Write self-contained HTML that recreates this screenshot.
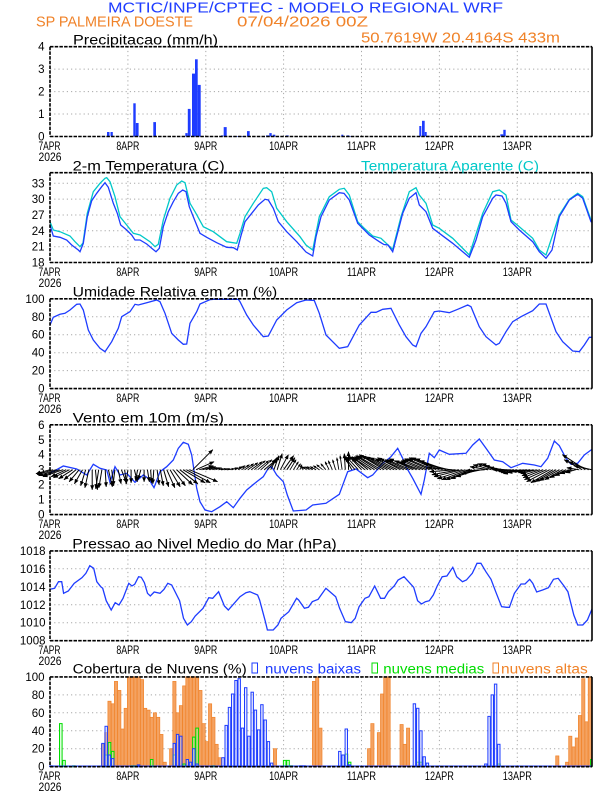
<!DOCTYPE html>
<html><head><meta charset="utf-8"><style>
html,body{margin:0;padding:0;background:#fff;}
svg{display:block;}
text{font-family:"Liberation Sans",sans-serif;}
.g{stroke:#a8a8a8;stroke-width:1;stroke-dasharray:1.2 3;fill:none;}
.fr{stroke:#000;stroke-width:1.6;fill:none;}
.frd{stroke:#000;stroke-width:1.6;fill:none;stroke-dasharray:3.5 1.2;}
.yl{font-size:11.5px;text-anchor:end;fill:#000;}
.xl{font-size:11.5px;text-anchor:middle;fill:#000;}
.tt{font-size:13.5px;fill:#000;}
.arr path{stroke:#000;stroke-width:1;fill:none;marker-end:url(#ah);}
.arrs path{stroke:#000;stroke-width:0.9;fill:none;marker-end:url(#as);}
.or rect{fill:#f4a261;stroke:#f08228;stroke-width:0.7;}
.gr rect{fill:rgba(190,255,190,0.5);stroke:#00dc00;stroke-width:1;}
.bl rect{fill:rgba(210,215,255,0.45);stroke:#1e3cff;stroke-width:1;}
.pr rect{fill:#1e3cff;}
</style></head><body>
<svg width="612" height="792" viewBox="0 0 612 792" xmlns="http://www.w3.org/2000/svg">
<defs>
<marker id="ah" viewBox="0 0 10 10" refX="9" refY="5" markerWidth="5" markerHeight="5" orient="auto" markerUnits="userSpaceOnUse"><path d="M0,1 L10,5 L0,9 z" fill="#000"/></marker>
<marker id="as" viewBox="0 0 10 10" refX="9" refY="5" markerWidth="3.2" markerHeight="3.2" orient="auto" markerUnits="userSpaceOnUse"><path d="M0,1 L10,5 L0,9 z" fill="#000"/></marker>
</defs>
<rect width="612" height="792" fill="#fff"/>

<!-- Header -->
<text x="108" y="12.7" font-size="15" fill="#1e3cff" textLength="395" lengthAdjust="spacingAndGlyphs">MCTIC/INPE/CPTEC - MODELO REGIONAL WRF</text>
<text x="36" y="26.7" font-size="15" fill="#f08228" textLength="157" lengthAdjust="spacingAndGlyphs">SP PALMEIRA DOESTE</text>
<text x="237" y="26.7" font-size="15" fill="#f08228" textLength="131" lengthAdjust="spacingAndGlyphs">07/04/2026 00Z</text>
<text x="361" y="42.7" font-size="15" fill="#f08228" textLength="199" lengthAdjust="spacingAndGlyphs">50.7619W 20.4164S 433m</text>

<!-- ============ PANEL 1: Precip ============ -->
<text class="tt" x="73" y="44.3" textLength="145" lengthAdjust="spacingAndGlyphs">Precipitacao (mm/h)</text>
<g>
<path class="g" d="M127.9 46.7V136.5M205.8 46.7V136.5M283.6 46.7V136.5M361.5 46.7V136.5M439.4 46.7V136.5M517.3 46.7V136.5M50 114.05H592M50 91.6H592M50 69.15H592"/>
</g>
<g class="pr">
<rect x="107" y="132" width="2.5" height="4.5"/>
<rect x="110.5" y="132" width="2.3" height="4.5"/>
<rect x="133.3" y="103.3" width="2.4" height="33.2"/>
<rect x="135.8" y="123" width="2.8" height="13.5"/>
<rect x="153.3" y="122.1" width="2.7" height="14.4"/>
<rect x="185.3" y="133.1" width="2.4" height="3.4"/>
<rect x="187.8" y="108.9" width="2.8" height="27.6"/>
<rect x="192" y="73.6" width="3" height="62.9"/>
<rect x="195" y="59.3" width="2.7" height="77.2"/>
<rect x="197.7" y="84.9" width="3" height="51.6"/>
<rect x="221" y="135.4" width="2.3" height="1.1"/>
<rect x="223.7" y="127.1" width="3" height="9.4"/>
<rect x="233" y="136" width="12" height="0.5"/>
<rect x="247" y="131.1" width="2.7" height="5.4"/>
<rect x="266" y="135.4" width="3" height="1.1"/>
<rect x="269.3" y="133.1" width="2.4" height="3.4"/>
<rect x="272.7" y="134.7" width="2.6" height="1.8"/>
<rect x="286" y="135.4" width="2.7" height="1.1"/>
<rect x="331" y="136" width="3" height="0.5"/>
<rect x="341.3" y="134.7" width="2" height="1.8"/>
<rect x="346.7" y="135.4" width="2.6" height="1.1"/>
<rect x="349.3" y="136" width="2.6" height="0.5"/>
<rect x="419.3" y="126" width="2" height="10.5"/>
<rect x="422" y="120.8" width="2.7" height="15.7"/>
<rect x="424.7" y="132" width="2" height="4.5"/>
<rect x="426.7" y="135.8" width="4" height="0.7"/>
<rect x="487.7" y="136" width="2" height="0.5"/>
<rect x="500.3" y="134.3" width="3" height="2.2"/>
<rect x="503.3" y="129.8" width="2.4" height="6.7"/>
</g>
<path class="frd" d="M50 46.7H592M50 136.5H592M50 46.7V136.5"/>
<path class="fr" d="M592 46.7V136.5"/>
<g class="yl"><text x="44.5" y="140.5">0</text><text x="44.5" y="118">1</text><text x="44.5" y="95.6">2</text><text x="44.5" y="73.2">3</text><text x="44.5" y="50.7">4</text></g>
<g class="xl">
<text x="49.5" y="150" textLength="22" lengthAdjust="spacingAndGlyphs">7APR</text>
<text x="127.9" y="150" textLength="23" lengthAdjust="spacingAndGlyphs">8APR</text>
<text x="205.8" y="150" textLength="23" lengthAdjust="spacingAndGlyphs">9APR</text>
<text x="283.6" y="150" textLength="29" lengthAdjust="spacingAndGlyphs">10APR</text>
<text x="361.5" y="150" textLength="29" lengthAdjust="spacingAndGlyphs">11APR</text>
<text x="439.4" y="150" textLength="29" lengthAdjust="spacingAndGlyphs">12APR</text>
<text x="517.3" y="150" textLength="29" lengthAdjust="spacingAndGlyphs">13APR</text>
<text x="50" y="161" textLength="23" lengthAdjust="spacingAndGlyphs">2026</text>
</g>

<!-- ============ PANEL 2: Temperature ============ -->
<text class="tt" x="72.7" y="170.7" textLength="152" lengthAdjust="spacingAndGlyphs">2-m Temperatura (C)</text>
<text class="tt" x="361" y="170.7" fill="#00c8c8" style="fill:#00c8c8" textLength="178" lengthAdjust="spacingAndGlyphs">Temperatura Aparente (C)</text>
<path class="g" d="M127.9 172.7V262.5M205.8 172.7V262.5M283.6 172.7V262.5M361.5 172.7V262.5M439.4 172.7V262.5M517.3 172.7V262.5M50 246.7H592M50 230.8H592M50 215H592M50 199.1H592M50 183.3H592"/>
<polyline fill="none" stroke="#00c8c8" stroke-width="1.3" points="50,221.7 53.3,230 60,231.7 70,236 75,241.7 80,246.7 83,243 87.3,213.3 93.3,191.7 100,183.3 105,178.3 106.7,177.7 110,181.7 115,196.7 120,216.7 126.7,225 133.3,233.3 140,235 150,241.7 155,246.7 158.3,244.3 163.3,220 170,198.3 176.7,185 181.7,181 185,182.7 190,203.3 195,211.7 203.3,226.7 213.3,231.7 226.7,241.7 236.7,243.3 240,233.3 245,216.7 253.3,203.3 263.3,188.3 266.7,187.7 271.7,191.7 276.7,208.3 286.7,221.7 300,236.7 306,245 312.7,250 319.3,216.7 329.3,196.7 339.3,189.3 344.3,188.3 349.3,195 357.7,221.7 364.3,228.3 372.7,236 381,238.3 392.7,249.3 401,216.7 409.3,191.7 416,187.7 419.3,195 426,203.3 432.7,225 439.3,228.3 452.7,238.3 469.3,255 482.7,213.3 492.7,191.7 499.3,190 506,195 511,220 519.3,226.7 532.7,238.3 539.3,250 546,255 559.3,215 569.3,199.3 577.7,193.3 582.7,196.7 591,220 592,220.5"/>
<polyline fill="none" stroke="#1e3cff" stroke-width="1.3" points="50,225 53.3,236 60,237.3 66.7,240 71.7,245 78.3,250 80,251.7 83.3,243.3 87.3,216.7 91.7,200.7 96.7,193.3 101.7,186.7 105,182.7 108.3,187.3 113.3,203.3 117.3,213.3 120.7,225 126.7,230 131.7,235 135,240 140,240 146.7,244 151.7,248.3 156,251.7 159.3,248.3 163.3,226.7 168.3,211.7 173.3,201.7 178.3,193.3 182.7,190 186,191.7 189.3,206.7 193.3,216.7 200,233.3 206.7,237.3 216.7,242.7 226.7,247.3 233.3,247.7 237.3,250 240.7,236.7 245,221.7 251.7,213.3 258.3,205 265,199.3 268.3,200 273.3,208.3 278.3,221.7 286.7,231.7 296.7,241.7 306,252 312.7,256 316,236.7 321,216.7 329.3,200 339.3,192.7 344,193.3 349.3,200 357.7,223.3 369.3,235 379.3,241.7 384,244.5 388,245 392.7,251.7 402.7,213.3 409.3,198.3 416,192.7 419.3,205 426,211.7 432.7,228.3 439.3,233.3 452.7,243.3 469.3,257.3 476,240 482.7,216.7 492.7,198.3 496,195 502,196 506,203.3 511,221.7 519.3,230 532.7,241.7 539.3,251.7 546,258.3 552,250 559.3,216.7 569.3,200 577.7,194.3 582.7,198.3 591,221.7 592,222"/>
<path class="frd" d="M50 172.7H592M50 262.5H592M50 172.7V262.5"/>
<path class="fr" d="M592 172.7V262.5"/>
<g class="yl"><text x="44.5" y="266.5">18</text><text x="44.5" y="250.7">21</text><text x="44.5" y="234.8">24</text><text x="44.5" y="219">27</text><text x="44.5" y="203.1">30</text><text x="44.5" y="187.3">33</text></g>
<g class="xl">
<text x="49.5" y="276" textLength="22" lengthAdjust="spacingAndGlyphs">7APR</text>
<text x="127.9" y="276" textLength="23" lengthAdjust="spacingAndGlyphs">8APR</text>
<text x="205.8" y="276" textLength="23" lengthAdjust="spacingAndGlyphs">9APR</text>
<text x="283.6" y="276" textLength="29" lengthAdjust="spacingAndGlyphs">10APR</text>
<text x="361.5" y="276" textLength="29" lengthAdjust="spacingAndGlyphs">11APR</text>
<text x="439.4" y="276" textLength="29" lengthAdjust="spacingAndGlyphs">12APR</text>
<text x="517.3" y="276" textLength="29" lengthAdjust="spacingAndGlyphs">13APR</text>
<text x="50" y="287" textLength="23" lengthAdjust="spacingAndGlyphs">2026</text>
</g>

<!-- ============ PANEL 3: Humidity ============ -->
<text class="tt" x="72.7" y="296.7" textLength="204.6" lengthAdjust="spacingAndGlyphs">Umidade Relativa em 2m (%)</text>
<path class="g" d="M127.9 298.8V388.6M205.8 298.8V388.6M283.6 298.8V388.6M361.5 298.8V388.6M439.4 298.8V388.6M517.3 298.8V388.6M50 370.6H592M50 352.7H592M50 334.7H592M50 316.8H592"/>
<polyline fill="none" stroke="#1e3cff" stroke-width="1.3" points="50,325 53.3,317.3 60,314.3 65,313.3 70,310 76.7,304.3 80,304 83.3,310 88.3,330 93.3,340 100,348.3 105,351.7 111.7,341.7 118.3,328.3 121.7,316.7 130,311.7 135,304.3 138.3,305 146.7,302.7 156.7,300 160,301.7 165,313.3 171.7,333.3 178.3,340 183.3,344.3 186.7,344 190,323.3 196.7,311.7 200,304 210,299.6 213.3,299.3 238.3,299.3 240,301.7 246.7,315 253.3,325 263.3,336.7 268.3,336 276.7,320 286.7,310 296.7,302.7 306,300 314.3,300.5 319.3,313.3 326,335 339.3,348.3 347.7,346.7 359.3,325 371,312.3 376,312.3 382.7,309.3 391,308.3 399.3,325 406,336.7 412.7,345 416,346.7 421,333.3 426,326.7 434.3,311.7 439.3,311 449.3,312.7 457.7,309.3 467.7,305 471,306.7 479.3,326.7 486,336.7 496,345 499.3,343.3 506,331.7 512.7,321.7 521,316.7 532.7,310.7 539.3,304 546,304 556,331.7 562.7,341.7 572.7,351 579.3,351.7 584.3,345 589.3,337.3 592,337.3"/>
<path class="frd" d="M50 298.8H592M50 388.6H592M50 298.8V388.6"/>
<path class="fr" d="M592 298.8V388.6"/>
<g class="yl"><text x="44.5" y="392.6">0</text><text x="44.5" y="374.6">20</text><text x="44.5" y="356.7">40</text><text x="44.5" y="338.7">60</text><text x="44.5" y="320.8">80</text><text x="44.5" y="302.8">100</text></g>
<g class="xl">
<text x="49.5" y="402" textLength="22" lengthAdjust="spacingAndGlyphs">7APR</text>
<text x="127.9" y="402" textLength="23" lengthAdjust="spacingAndGlyphs">8APR</text>
<text x="205.8" y="402" textLength="23" lengthAdjust="spacingAndGlyphs">9APR</text>
<text x="283.6" y="402" textLength="29" lengthAdjust="spacingAndGlyphs">10APR</text>
<text x="361.5" y="402" textLength="29" lengthAdjust="spacingAndGlyphs">11APR</text>
<text x="439.4" y="402" textLength="29" lengthAdjust="spacingAndGlyphs">12APR</text>
<text x="517.3" y="402" textLength="29" lengthAdjust="spacingAndGlyphs">13APR</text>
<text x="50" y="413" textLength="23" lengthAdjust="spacingAndGlyphs">2026</text>
</g>

<!-- ============ PANEL 4: Wind ============ -->
<text class="tt" x="72.7" y="422.3" textLength="151.3" lengthAdjust="spacingAndGlyphs">Vento em 10m (m/s)</text>
<path class="g" d="M127.9 424.8V514.6M205.8 424.8V514.6M283.6 424.8V514.6M361.5 424.8V514.6M439.4 424.8V514.6M517.3 424.8V514.6M50 499.6H592M50 484.7H592M50 469.7H592M50 454.7H592M50 439.8H592"/>
<polyline fill="none" stroke="#1e3cff" stroke-width="1.3" points="50,473.3 63.3,466 76.7,469 86.7,475 93.3,464.3 100,468.3 106.7,470 110,482.3 115,466.7 120,475 126.7,473.3 135,482.3 143.3,475 148.3,478.3 154,487.7 160,471.7 166.7,466.7 173.3,460 178.3,448.3 183.3,442.3 188.3,444.3 191.7,455 196.7,488.3 200,501.7 205,510 211.7,511.7 220,506.7 226.7,501.7 233.3,507.7 240,498.3 246.7,490 256.7,481.7 263.3,476.7 268.3,468.3 271.7,466.7 276.7,475 283.3,481.7 287.3,495 293.3,511 306,510 312.7,505 326,503.3 339.3,494.3 347.7,471.7 356,469 367.7,477.7 372.7,475 382.7,463.3 391,456.7 397.7,448.3 402.7,458.3 406,466.7 412.7,478.3 421,494.3 424.3,480 429.3,453.3 434.3,457.7 439.3,450 449.3,454.3 466,453.3 472.7,445 479.3,439 486,448.3 494.3,460 502.7,461.7 511,467.7 522.7,463.3 534.3,465 541,466.7 547.7,458.3 554.3,441 559.3,445.7 566,458.3 571,464.3 577.7,463.3 584.3,455 591,450 592,449.5"/>
<g class="arr">
<path d="M50 469.7l-14 4"/><path d="M53.2 469.7l-16 5"/><path d="M56.5 469.7l-18 6"/><path d="M59.7 469.7l-17 6"/><path d="M63 469.7l-20 7"/><path d="M66.2 469.7l-15 7"/><path d="M69.5 469.7l-16 8"/><path d="M72.7 469.7l-14 9"/><path d="M76 469.7l-12 10"/><path d="M79.2 469.7l-10 12"/><path d="M82.5 469.7l-8 14"/><path d="M85.7 469.7l-5 16"/><path d="M88.9 469.7l-4 18"/><path d="M92.2 469.7l0 20"/><path d="M95.4 469.7l2 20"/><path d="M98.7 469.7l-3 19"/><path d="M101.9 469.7l-3 18"/><path d="M105.2 469.7l1 17"/><path d="M108.4 469.7l4 17"/><path d="M111.7 469.7l2 16"/><path d="M114.9 469.7l-2 16"/><path d="M118.1 469.7l3 14"/><path d="M121.4 469.7l5 13"/><path d="M124.6 469.7l2 14"/><path d="M127.9 469.7l-2 14"/><path d="M131.1 469.7l0 13"/><path d="M134.4 469.7l3 12"/><path d="M137.6 469.7l-2 11"/><path d="M140.9 469.7l-3 10"/><path d="M144.1 469.7l0 12"/><path d="M147.4 469.7l2 12"/><path d="M150.6 469.7l1 13"/><path d="M153.8 469.7l-1 14"/><path d="M157.1 469.7l2 15"/><path d="M160.3 469.7l3 16"/><path d="M163.6 469.7l5 17"/><path d="M166.8 469.7l8 18"/><path d="M170.1 469.7l10 17"/><path d="M173.3 469.7l12 16"/><path d="M176.6 469.7l16 15"/><path d="M179.8 469.7l18 14"/><path d="M183 469.7l22 13"/><path d="M186.3 469.7l24 13"/><path d="M189.5 469.7l28 12"/><path d="M192.8 469.7l20 -20"/><path d="M196 469.7l18 -8"/><path d="M199.3 469.7l14 -4"/><path d="M202.5 469.7l12 -3"/>
<path d="M264.2 469.7l12 -10"/><path d="M267.4 469.7l10 -11"/><path d="M270.7 469.7l6 -12"/><path d="M273.9 469.7l5 -14"/><path d="M277.2 469.7l5 -16"/><path d="M280.4 469.7l8 -15"/><path d="M283.6 469.7l10 -14"/><path d="M286.9 469.7l8 -12"/><path d="M345.3 469.7l-1 -16"/><path d="M348.5 469.7l0 -18"/><path d="M351.8 469.7l-8 -14"/>
<path d="M355 469.7l-10 -12"/><path d="M358.3 469.7l-12 -13"/><path d="M361.5 469.7l-13 -14"/><path d="M364.8 469.7l-14 -12"/><path d="M368 469.7l-16 -13"/><path d="M371.3 469.7l-18 -12"/><path d="M374.5 469.7l-20 -13"/><path d="M377.7 469.7l-22 -14"/><path d="M381 469.7l-24 -14"/><path d="M384.2 469.7l-25 -15"/><path d="M387.5 469.7l-26 -14"/><path d="M390.7 469.7l-25 -13"/><path d="M394 469.7l-24 -12"/><path d="M397.2 469.7l-22 -11"/><path d="M400.5 469.7l-23 -12"/><path d="M403.7 469.7l-24 -11"/><path d="M406.9 469.7l-22 -10"/><path d="M410.2 469.7l-23 -10"/><path d="M413.4 469.7l-24 -11"/><path d="M416.7 469.7l-22 -9"/><path d="M419.9 469.7l-21 -8"/><path d="M423.2 469.7l-22 -9"/><path d="M426.4 469.7l-24 -10"/><path d="M429.7 469.7l-25 -11"/><path d="M432.9 469.7l-26 -11"/><path d="M436.2 469.7l-27 -12"/><path d="M439.4 469.7l-28 -12"/><path d="M442.6 469.7l-27 -11"/><path d="M445.9 469.7l-26 -9"/><path d="M449.1 469.7l-25 -6"/><path d="M452.4 469.7l-25 -2"/><path d="M455.6 469.7l-26 2"/><path d="M458.9 469.7l-27 5"/><path d="M462.1 469.7l-28 7"/><path d="M465.4 469.7l-28 9"/><path d="M468.6 469.7l-27 10"/><path d="M471.9 469.7l-26 10"/><path d="M475.1 469.7l-24 9"/><path d="M478.3 469.7l-22 7"/><path d="M481.6 469.7l-20 4"/><path d="M484.8 469.7l-19 1"/><path d="M488.1 469.7l-18 -3"/><path d="M491.3 469.7l-18 -5"/><path d="M494.6 469.7l-17 -6"/><path d="M497.8 469.7l-16 -6"/><path d="M501.1 469.7l-16 -4"/><path d="M504.3 469.7l-15 -2"/><path d="M507.5 469.7l-15 0"/><path d="M510.8 469.7l-14 1"/><path d="M514 469.7l-15 2"/><path d="M517.3 469.7l-16 3"/><path d="M520.5 469.7l-17 4"/><path d="M523.8 469.7l-16 3"/><path d="M527 469.7l-15 2"/><path d="M530.3 469.7l-14 2"/><path d="M533.5 469.7l-15 3"/><path d="M536.8 469.7l-16 4"/><path d="M540 469.7l-18 6"/><path d="M543.2 469.7l-20 8"/><path d="M546.5 469.7l-22 10"/><path d="M549.7 469.7l-23 12"/><path d="M553 469.7l-22 13"/><path d="M556.2 469.7l-21 12"/><path d="M559.5 469.7l-20 11"/><path d="M562.7 469.7l-18 10"/><path d="M566 469.7l-16 8"/><path d="M569.2 469.7l-14 6"/><path d="M572.4 469.7l-12 4"/><path d="M575.7 469.7l-10 3"/><path d="M578.9 469.7l-12 -2"/><path d="M582.2 469.7l-18 -10"/><path d="M585.4 469.7l-23 -15"/><path d="M588.7 469.7l-20 -8"/><path d="M591.9 469.7l-18 -4"/>
</g>
<g class="arrs">
<path d="M205.8 469.7l10 -3"/><path d="M209 469.7l8 -2"/><path d="M212.3 469.7l7 -2"/><path d="M215.5 469.7l6 -2"/><path d="M218.7 469.7l5 -1"/><path d="M222 469.7l5 -1"/><path d="M225.2 469.7l5 -1"/><path d="M228.5 469.7l6 -1"/><path d="M231.7 469.7l6 -2"/><path d="M235 469.7l7 -3"/><path d="M238.2 469.7l7 -4"/><path d="M241.5 469.7l8 -5"/><path d="M244.7 469.7l9 -6"/><path d="M247.9 469.7l10 -7"/><path d="M251.2 469.7l11 -8"/><path d="M254.4 469.7l11 -9"/><path d="M257.7 469.7l11 -9"/><path d="M260.9 469.7l11 -10"/>
<path d="M290.1 469.7l6 -10"/><path d="M293.4 469.7l5 -8"/><path d="M296.6 469.7l4 -6"/><path d="M299.9 469.7l2 -5"/><path d="M303.1 469.7l-2 -4"/><path d="M306.4 469.7l-4 -3"/><path d="M309.6 469.7l-5 -3"/><path d="M312.8 469.7l-6 -3"/><path d="M316.1 469.7l-6 -3"/><path d="M319.3 469.7l-6 -4"/><path d="M322.6 469.7l-6 -5"/><path d="M325.8 469.7l-5 -6"/><path d="M329.1 469.7l-4 -8"/><path d="M332.3 469.7l-4 -9"/><path d="M335.6 469.7l-3 -10"/><path d="M338.8 469.7l-2 -12"/><path d="M342.1 469.7l-2 -14"/>
</g>
<path class="frd" d="M50 424.8H592M50 514.6H592M50 424.8V514.6"/>
<path class="fr" d="M592 424.8V514.6"/>
<g class="yl"><text x="44.5" y="518.6">0</text><text x="44.5" y="503.6">1</text><text x="44.5" y="488.7">2</text><text x="44.5" y="473.7">3</text><text x="44.5" y="458.7">4</text><text x="44.5" y="443.8">5</text><text x="44.5" y="428.8">6</text></g>
<g class="xl">
<text x="49.5" y="528" textLength="22" lengthAdjust="spacingAndGlyphs">7APR</text>
<text x="127.9" y="528" textLength="23" lengthAdjust="spacingAndGlyphs">8APR</text>
<text x="205.8" y="528" textLength="23" lengthAdjust="spacingAndGlyphs">9APR</text>
<text x="283.6" y="528" textLength="29" lengthAdjust="spacingAndGlyphs">10APR</text>
<text x="361.5" y="528" textLength="29" lengthAdjust="spacingAndGlyphs">11APR</text>
<text x="439.4" y="528" textLength="29" lengthAdjust="spacingAndGlyphs">12APR</text>
<text x="517.3" y="528" textLength="29" lengthAdjust="spacingAndGlyphs">13APR</text>
<text x="50" y="539" textLength="23" lengthAdjust="spacingAndGlyphs">2026</text>
</g>

<!-- ============ PANEL 5: Pressure ============ -->
<text class="tt" x="72.3" y="548.3" textLength="264.4" lengthAdjust="spacingAndGlyphs">Pressao ao Nivel Medio do Mar (hPa)</text>
<path class="g" d="M127.9 550.9V640.7M205.8 550.9V640.7M283.6 550.9V640.7M361.5 550.9V640.7M439.4 550.9V640.7M517.3 550.9V640.7M50 622.7H592M50 604.8H592M50 586.8H592M50 568.8H592"/>
<polyline fill="none" stroke="#1e3cff" stroke-width="1.3" points="50,589.3 54.6,588.3 58.5,581.7 61.7,581.7 63.6,593.3 68.3,591 74.2,583.3 82,577.7 85.9,573.3 89.8,565.7 93.7,568.3 96.8,581.7 100.7,586.7 102.7,588.3 106.2,600.7 111.2,610 115.2,602.7 119,605 123,598.3 128.8,583.3 131.9,586 134.7,584.3 138.6,576.7 141.3,577.3 144.4,582.7 147.5,593.3 150.3,596 154.2,592 160,593.3 164,589.3 167.8,583.3 171.7,585 179.6,600.7 183.5,618.3 187.4,625 191.3,621.7 195.2,616 203,608.3 208.8,597.7 212.7,598.3 218.6,591.7 224.4,606 228.3,610 234.2,603.3 240,596.7 245.9,592.7 249.8,591.7 257.6,595 259.6,600 265.4,621.7 267.4,630 273.2,630 277.9,625 281,618.3 288.8,611.7 296.6,598.3 298.6,600 304.4,608.3 308.4,607.3 312.3,601.7 318.1,599.3 325.9,588.3 327.9,590 335.7,596.7 339.6,608.3 345.4,621.7 351.3,622.7 355.2,618.3 359.1,606.7 365,598.3 368.9,596.7 374.7,586 380.6,598.3 384.5,598.3 388.4,591.7 394.2,586 398.1,580 404,576.7 413.7,587.3 417.6,600.7 421.5,604 425.4,601.7 429.3,600.7 433.3,595 437.2,586 442.2,576.7 446.9,576 452.8,567.3 456.7,576.7 462.5,581.7 466.4,580 472.3,573.3 477,563.3 480.9,563.3 485.9,571.7 491,579.3 495.7,591.7 501.6,606.7 506.6,607.3 509.4,607.3 514.4,593.3 521,584 525,584 529.7,579.3 532.8,583.3 536.7,592 542.6,590 548.4,587.7 553.5,579.3 558.2,578.3 564,586 567.9,591.7 573.8,615 577.7,625 582.8,625 587.4,620 592,609"/>
<path class="frd" d="M50 550.9H592M50 640.7H592M50 550.9V640.7"/>
<path class="fr" d="M592 550.9V640.7"/>
<g class="yl"><text x="45.5" y="644.7">1008</text><text x="45.5" y="626.7">1010</text><text x="45.5" y="608.8">1012</text><text x="45.5" y="590.8">1014</text><text x="45.5" y="572.8">1016</text><text x="45.5" y="554.9">1018</text></g>
<g class="xl">
<text x="49.5" y="654" textLength="22" lengthAdjust="spacingAndGlyphs">7APR</text>
<text x="127.9" y="654" textLength="23" lengthAdjust="spacingAndGlyphs">8APR</text>
<text x="205.8" y="654" textLength="23" lengthAdjust="spacingAndGlyphs">9APR</text>
<text x="283.6" y="654" textLength="29" lengthAdjust="spacingAndGlyphs">10APR</text>
<text x="361.5" y="654" textLength="29" lengthAdjust="spacingAndGlyphs">11APR</text>
<text x="439.4" y="654" textLength="29" lengthAdjust="spacingAndGlyphs">12APR</text>
<text x="517.3" y="654" textLength="29" lengthAdjust="spacingAndGlyphs">13APR</text>
<text x="50" y="665" textLength="23" lengthAdjust="spacingAndGlyphs">2026</text>
</g>

<!-- ============ PANEL 6: Clouds ============ -->
<text class="tt" x="72.7" y="673.3" textLength="174" lengthAdjust="spacingAndGlyphs">Cobertura de Nuvens (%)</text>
<rect x="252" y="663" width="5.5" height="10" fill="none" stroke="#1e3cff" stroke-width="1"/>
<text x="265" y="673.3" font-size="13.5" fill="#1e3cff" textLength="96" lengthAdjust="spacingAndGlyphs">nuvens baixas</text>
<rect x="372" y="663" width="5.5" height="10" fill="none" stroke="#00dc00" stroke-width="1"/>
<text x="383.3" y="673.3" font-size="13.5" fill="#00dc00" textLength="101" lengthAdjust="spacingAndGlyphs">nuvens medias</text>
<rect x="493" y="663" width="5.5" height="10" fill="none" stroke="#f08228" stroke-width="1"/>
<text x="501" y="673.3" font-size="13.5" fill="#f08228" textLength="86.7" lengthAdjust="spacingAndGlyphs">nuvens altas</text>
<path class="g" d="M127.9 676.9V766.7M205.8 676.9V766.7M283.6 676.9V766.7M361.5 676.9V766.7M439.4 676.9V766.7M517.3 676.9V766.7M50 748.7H592M50 730.8H592M50 712.8H592M50 694.9H592"/>
<g class="or">
<rect x="101.4" y="744.3" width="3.2" height="22.4"/>
<rect x="104.7" y="732.6" width="3.2" height="34.1"/>
<rect x="107.9" y="701.2" width="3.2" height="65.5"/>
<rect x="111.2" y="703.8" width="3.2" height="62.9"/>
<rect x="114.4" y="681.4" width="3.2" height="85.3"/>
<rect x="117.7" y="690.4" width="3.2" height="76.3"/>
<rect x="120.9" y="729" width="3.2" height="37.7"/>
<rect x="124.1" y="708.3" width="3.2" height="58.4"/>
<rect x="127.4" y="676.9" width="3.2" height="89.8"/>
<rect x="130.6" y="676.9" width="3.2" height="89.8"/>
<rect x="133.9" y="676.9" width="3.2" height="89.8"/>
<rect x="137.1" y="676.9" width="3.2" height="89.8"/>
<rect x="140.4" y="679.6" width="3.2" height="87.1"/>
<rect x="143.6" y="708.3" width="3.2" height="58.4"/>
<rect x="146.9" y="710.1" width="3.2" height="56.6"/>
<rect x="150.1" y="717.3" width="3.2" height="49.4"/>
<rect x="153.3" y="712.8" width="3.2" height="53.9"/>
<rect x="156.6" y="717.3" width="3.2" height="49.4"/>
<rect x="159.8" y="734.4" width="3.2" height="32.3"/>
<rect x="163.1" y="762.2" width="3.2" height="4.5"/>
<rect x="169.6" y="748.7" width="3.2" height="18"/>
<rect x="172.8" y="681.4" width="3.2" height="85.3"/>
<rect x="176.1" y="712.8" width="3.2" height="53.9"/>
<rect x="179.3" y="705.6" width="3.2" height="61.1"/>
<rect x="182.6" y="685.9" width="3.2" height="80.8"/>
<rect x="185.8" y="676.9" width="3.2" height="89.8"/>
<rect x="189" y="676.9" width="3.2" height="89.8"/>
<rect x="192.3" y="676.9" width="3.2" height="89.8"/>
<rect x="195.5" y="676.9" width="3.2" height="89.8"/>
<rect x="198.8" y="690.4" width="3.2" height="76.3"/>
<rect x="202" y="723.6" width="3.2" height="43.1"/>
<rect x="205.3" y="741.6" width="3.2" height="25.1"/>
<rect x="208.5" y="703.8" width="3.2" height="62.9"/>
<rect x="211.8" y="717.3" width="3.2" height="49.4"/>
<rect x="215" y="744.3" width="3.2" height="22.4"/>
<rect x="218.2" y="757.7" width="3.2" height="9"/>
<rect x="273.4" y="748.7" width="3.2" height="18"/>
<rect x="312.4" y="681.4" width="3.2" height="85.3"/>
<rect x="315.6" y="676.9" width="3.2" height="89.8"/>
<rect x="318.8" y="728.1" width="3.2" height="38.6"/>
<rect x="367.5" y="748.7" width="3.2" height="18"/>
<rect x="370.8" y="723.6" width="3.2" height="43.1"/>
<rect x="377.3" y="732.6" width="3.2" height="34.1"/>
<rect x="380.5" y="694" width="3.2" height="72.7"/>
<rect x="383.7" y="676.9" width="3.2" height="89.8"/>
<rect x="387" y="676.9" width="3.2" height="89.8"/>
<rect x="390.2" y="765.8" width="3.2" height="0.9"/>
<rect x="400" y="724.5" width="3.2" height="42.2"/>
<rect x="403.2" y="744.3" width="3.2" height="22.4"/>
<rect x="406.5" y="728.1" width="3.2" height="38.6"/>
<rect x="416.2" y="764" width="3.2" height="2.7"/>
<rect x="419.4" y="764" width="3.2" height="2.7"/>
<rect x="555.7" y="755.9" width="3.2" height="10.8"/>
<rect x="565.5" y="762.2" width="3.2" height="4.5"/>
<rect x="568.7" y="736.2" width="3.2" height="30.5"/>
<rect x="572" y="746.9" width="3.2" height="19.8"/>
<rect x="575.2" y="738" width="3.2" height="28.7"/>
<rect x="578.4" y="715.5" width="3.2" height="51.2"/>
<rect x="581.7" y="678.7" width="3.2" height="88"/>
<rect x="584.9" y="721.8" width="3.2" height="44.9"/>
<rect x="588.2" y="676.9" width="3.2" height="89.8"/>
</g>
<g class="gr">
<rect x="59.5" y="723.6" width="2.6" height="43.1"/>
<rect x="62.7" y="760.4" width="2.6" height="6.3"/>
<rect x="72.5" y="765.8" width="2.6" height="0.9"/>
<rect x="105" y="755" width="2.6" height="11.7"/>
<rect x="108.2" y="742.5" width="2.6" height="24.2"/>
<rect x="111.4" y="751.4" width="2.6" height="15.3"/>
<rect x="130.9" y="765.8" width="2.6" height="0.9"/>
<rect x="134.1" y="765.8" width="2.6" height="0.9"/>
<rect x="150.4" y="759.5" width="2.6" height="7.2"/>
<rect x="173.1" y="755" width="2.6" height="11.7"/>
<rect x="182.8" y="764" width="2.6" height="2.7"/>
<rect x="192.6" y="737.1" width="2.6" height="29.6"/>
<rect x="195.8" y="728.1" width="2.6" height="38.6"/>
<rect x="212" y="765.8" width="2.6" height="0.9"/>
<rect x="283.4" y="760.4" width="2.6" height="6.3"/>
<rect x="286.7" y="760.4" width="2.6" height="6.3"/>
<rect x="289.9" y="765.8" width="2.6" height="0.9"/>
<rect x="345.1" y="754.1" width="2.6" height="12.6"/>
<rect x="348.3" y="762.2" width="2.6" height="4.5"/>
<rect x="416.5" y="762.2" width="2.6" height="4.5"/>
<rect x="419.7" y="762.2" width="2.6" height="4.5"/>
<rect x="497.6" y="764" width="2.6" height="2.7"/>
<rect x="590.6" y="759.5" width="1.4" height="7.2"/>
</g>
<g class="bl">
<rect x="49.8" y="765.8" width="2.4" height="0.9"/>
<rect x="101.7" y="743.4" width="2.4" height="23.3"/>
<rect x="105" y="726.3" width="2.4" height="40.4"/>
<rect x="108.2" y="755" width="2.4" height="11.7"/>
<rect x="111.5" y="758.6" width="2.4" height="8.1"/>
<rect x="137.4" y="764.9" width="2.4" height="1.8"/>
<rect x="173.1" y="743.4" width="2.4" height="23.3"/>
<rect x="176.4" y="734.4" width="2.4" height="32.3"/>
<rect x="179.6" y="736.2" width="2.4" height="30.5"/>
<rect x="186.1" y="759.5" width="2.4" height="7.2"/>
<rect x="189.3" y="762.2" width="2.4" height="4.5"/>
<rect x="192.6" y="748.7" width="2.4" height="18"/>
<rect x="195.8" y="764" width="2.4" height="2.7"/>
<rect x="221.8" y="757.7" width="2.4" height="9"/>
<rect x="225" y="725.4" width="2.4" height="41.3"/>
<rect x="228.3" y="707.4" width="2.4" height="59.3"/>
<rect x="231.5" y="694" width="2.4" height="72.7"/>
<rect x="234.8" y="680.5" width="2.4" height="86.2"/>
<rect x="238" y="678.7" width="2.4" height="88"/>
<rect x="241.3" y="728.1" width="2.4" height="38.6"/>
<rect x="244.5" y="687.7" width="2.4" height="79"/>
<rect x="247.7" y="736.2" width="2.4" height="30.5"/>
<rect x="251" y="692.2" width="2.4" height="74.5"/>
<rect x="254.2" y="710.1" width="2.4" height="56.6"/>
<rect x="257.5" y="729.9" width="2.4" height="36.8"/>
<rect x="260.7" y="704.7" width="2.4" height="62"/>
<rect x="264" y="720" width="2.4" height="46.7"/>
<rect x="267.2" y="741.6" width="2.4" height="25.1"/>
<rect x="270.5" y="763.1" width="2.4" height="3.6"/>
<rect x="299.7" y="765.8" width="2.4" height="0.9"/>
<rect x="302.9" y="765.8" width="2.4" height="0.9"/>
<rect x="338.6" y="751.4" width="2.4" height="15.3"/>
<rect x="341.9" y="755" width="2.4" height="11.7"/>
<rect x="345.1" y="729" width="2.4" height="37.7"/>
<rect x="348.4" y="764.9" width="2.4" height="1.8"/>
<rect x="413.2" y="703.8" width="2.4" height="62.9"/>
<rect x="416.5" y="708.3" width="2.4" height="58.4"/>
<rect x="419.7" y="730.8" width="2.4" height="35.9"/>
<rect x="423" y="756.8" width="2.4" height="9.9"/>
<rect x="426.2" y="763.1" width="2.4" height="3.6"/>
<rect x="484.6" y="764" width="2.4" height="2.7"/>
<rect x="487.9" y="716.4" width="2.4" height="50.3"/>
<rect x="491.1" y="694.9" width="2.4" height="71.8"/>
<rect x="494.4" y="684.1" width="2.4" height="82.6"/>
<rect x="497.6" y="744.3" width="2.4" height="22.4"/>
</g>
<path d="M50 766.1H592" stroke="#1e3cff" stroke-width="1.3" fill="none"/>
<path class="frd" d="M50 676.9H592M50 766.7H592M50 676.9V766.7"/>
<path class="fr" d="M592 676.9V766.7"/>
<g class="yl"><text x="44.5" y="770.7">0</text><text x="44.5" y="752.7">20</text><text x="44.5" y="734.8">40</text><text x="44.5" y="716.8">60</text><text x="44.5" y="698.9">80</text><text x="44.5" y="680.9">100</text></g>
<g class="xl">
<text x="49.5" y="780" textLength="22" lengthAdjust="spacingAndGlyphs">7APR</text>
<text x="127.9" y="780" textLength="23" lengthAdjust="spacingAndGlyphs">8APR</text>
<text x="205.8" y="780" textLength="23" lengthAdjust="spacingAndGlyphs">9APR</text>
<text x="283.6" y="780" textLength="29" lengthAdjust="spacingAndGlyphs">10APR</text>
<text x="361.5" y="780" textLength="29" lengthAdjust="spacingAndGlyphs">11APR</text>
<text x="439.4" y="780" textLength="29" lengthAdjust="spacingAndGlyphs">12APR</text>
<text x="517.3" y="780" textLength="29" lengthAdjust="spacingAndGlyphs">13APR</text>
<text x="50" y="791" textLength="23" lengthAdjust="spacingAndGlyphs">2026</text>
</g>
</svg>
</body></html>
